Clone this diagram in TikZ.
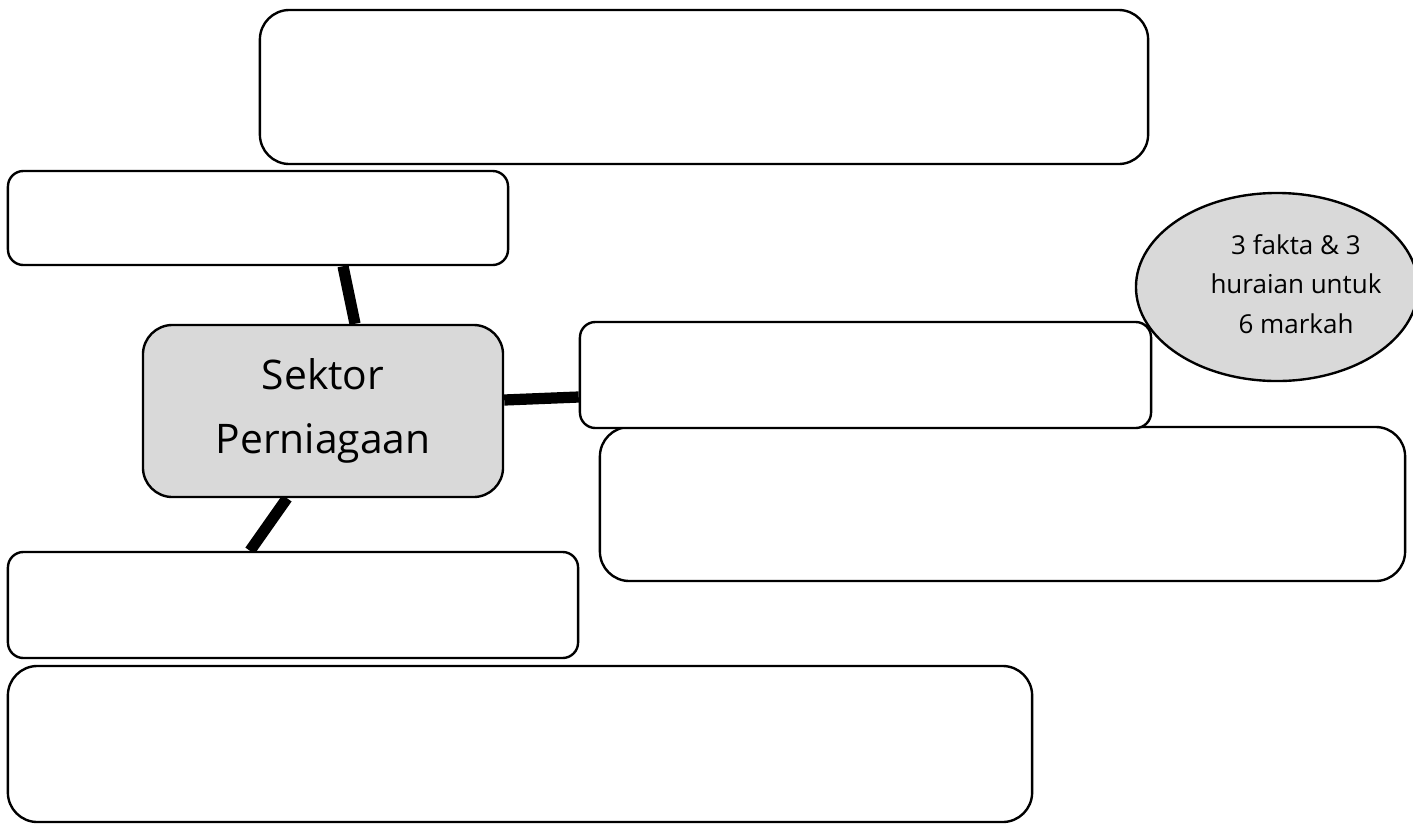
\documentclass[tikz,border=0pt]{standalone}
\usepackage{fontspec}
\setmainfont{Open Sans}
\usetikzlibrary{shapes.geometric,backgrounds}
\definecolor{boxgray}{HTML}{D9D9D9}
\tikzset{
  px/.style={x=0.025cm,y=-0.025cm},
  bigbox/.style={draw=black,line width=1.7pt,fill=white,rounded corners=21pt,inner sep=0pt},
  smallbox/.style={draw=black,line width=1.7pt,fill=white,rounded corners=11pt,inner sep=0pt},
  hubbox/.style={draw=black,line width=1.7pt,fill=boxgray,rounded corners=21pt,inner sep=0pt,align=center,
    font=\fontsize{29}{46}\selectfont},
  notebubble/.style={ellipse,draw=black,line width=1.7pt,fill=boxgray,inner sep=0pt},
  notetext/.style={align=center,font=\fontsize{18.5}{28}\selectfont},
  link/.style={line width=8pt,black}
}
\begin{document}
\begin{tikzpicture}[px]
\useasboundingbox (0,0) rectangle (1413,823);
\clip (0,0) rectangle (1413,823);
\node[bigbox,minimum width=22.2cm,minimum height=3.85cm] (top) at (704,87) {};
\node[smallbox,minimum width=12.5cm,minimum height=2.35cm] (a) at (258,218) {};
\node[hubbox,minimum width=9cm,minimum height=4.3cm] (hub) at (323,411) {Sektor\\Perniagaan};
\node[notebubble,minimum width=7.05cm,minimum height=4.7cm] (el) at (1277,287) {};
\node[notetext] (eltext) at (1296,284) {3 fakta \& 3\\huraian untuk\\6 markah};
\node[bigbox,minimum width=20.125cm,minimum height=3.85cm] (r2) at (1002.5,504) {};
\node[smallbox,minimum width=14.275cm,minimum height=2.65cm] (r1) at (865.5,375) {};
\node[smallbox,minimum width=14.25cm,minimum height=2.65cm] (l) at (293,605) {};
\node[bigbox,minimum width=25.6cm,minimum height=3.9cm] (bot) at (520,744) {};
\begin{pgfonlayer}{background}
\draw[link] ([xshift=2.125cm]a.south) -- ([xshift=0.8cm]hub.north);
\draw[link] ([yshift=0.275cm]hub.east) -- ([yshift=-0.55cm]r1.west);
\draw[link] ([xshift=-0.9cm]hub.south) -- ([xshift=-1.075cm]l.north);
\end{pgfonlayer}
\end{tikzpicture}
\end{document}
